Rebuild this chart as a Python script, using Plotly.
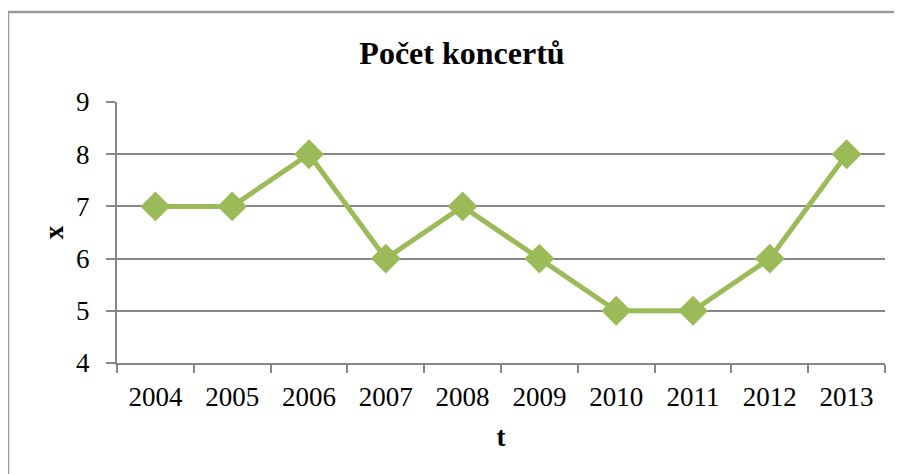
import plotly.graph_objects as go

years = ["2004", "2005", "2006", "2007", "2008", "2009", "2010", "2011", "2012", "2013"]
counts = [7, 7, 8, 6, 7, 6, 5, 5, 6, 8]
y_ticks = [4, 5, 6, 7, 8, 9]

GREEN = "#9BBB59"
GRID = "#878787"
FONT = "Liberation Serif, Times New Roman, serif"

# plot area in figure coordinates (page body has 8px margin)
L, T, W, H = 109, 94, 768, 261

fig = go.Figure()
fig.add_trace(go.Scatter(
    x=years, y=counts, mode="lines+markers",
    line=dict(color=GREEN, width=5),
    marker=dict(symbol="diamond", size=23, color=GREEN),
    showlegend=False,
))

fig.update_layout(
    width=902, height=474,
    margin=dict(l=L, r=902 - L - W, t=T, b=474 - T - H),
    paper_bgcolor="white", plot_bgcolor="white",
    font=dict(family=FONT, color="black", size=27),
    title=dict(text="<b>Počet koncertů</b>", x=454/902, xanchor="center",
               y=1 - 45/474, yanchor="middle",
               font=dict(family=FONT, size=32, color="black")),
    shapes=[
        dict(type="line", xref="paper", yref="paper",
             x0=(0 - L) / W, x1=(910 - L) / W,
             y0=(T + H - 4) / H, y1=(T + H - 4) / H,
             line=dict(color="#9a9a9a", width=2.5)),
        dict(type="line", xref="paper", yref="paper",
             x0=(0 - L) / W, x1=(0 - L) / W,
             y0=(T + H - 4) / H, y1=(T + H - 480) / H,
             line=dict(color="#9a9a9a", width=2.5)),
    ],
)

fig.update_xaxes(
    type="category", range=[-0.5, 9.5],
    tickson="boundaries", ticks="outside", ticklen=8, tickwidth=2, tickcolor=GRID,
    showline=True, linecolor=GRID, linewidth=2,
    showgrid=False, zeroline=False,
    ticklabelstandoff=9,
    tickfont=dict(family=FONT, size=27, color="black"),
    title=dict(text="<b>t</b>", font=dict(family=FONT, size=27, color="black"), standoff=16),
)
fig.update_yaxes(
    range=[4, 9], tickvals=y_ticks, ticktext=[str(v) for v in y_ticks],
    ticks="outside", ticklen=9, tickwidth=2, tickcolor=GRID,
    showline=True, linecolor=GRID, linewidth=2,
    showgrid=True, gridcolor=GRID, gridwidth=2, zeroline=False,
    ticklabelstandoff=11,
    tickfont=dict(family=FONT, size=27, color="black"),
    title=dict(text="<b>x</b>", font=dict(family=FONT, size=27, color="black"), standoff=5),
)

fig.write_html("out.html")
